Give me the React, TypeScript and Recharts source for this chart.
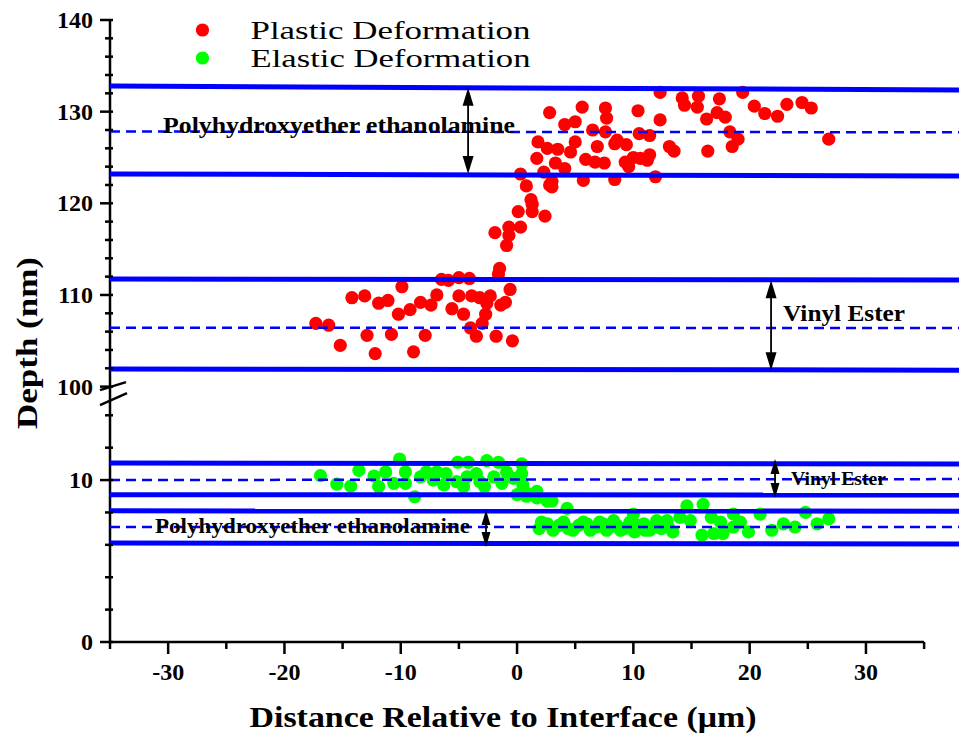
import { ScatterChart, Scatter, XAxis, YAxis, ReferenceLine, ReferenceDot, Legend } from 'recharts';

const FONT = '"Liberation Serif", "Times New Roman", serif';

// y axis is broken: 0..~15 nm below, 100..140 nm above (compressed)
const BREAK_AXIS = 15.77;
const UPPER_SCALE = 0.566;
const toAxis = (d: number) => (d >= 50 ? BREAK_AXIS + (d - 100) * UPPER_SCALE : d);
const fromAxis = (v: number) => (v >= BREAK_AXIS - 1e-6 ? 100 + (v - BREAK_AXIS) / UPPER_SCALE : v);

const xTicks = [-35, -30, -25, -20, -15, -10, -5, 0, 5, 10, 15, 20, 25, 30, 35];
const yTicksReal = [0, 2, 4, 6, 8, 10, 12, 14, 100, 102, 104, 106, 108, 110, 112, 114, 116, 118, 120, 122, 124, 126, 128, 130, 132, 134, 136, 138, 140];

const seriesNames = ['Plastic Deformation', 'Elastic Deformation'];
const seriesColors = ['#ff0000', '#00ff00'];

const plasticX = [
  -17.3, -16.2, -15.2, -14.2, -13.1, -12.9, -12.2, -11.9, -11.1, -10.8, -10.2, -9.9, -9.2, -8.9, -8.3, -7.9, -7.4, -6.9, -6.5, -5.9,
  -5.6, -5.0, -5.0, -4.6, -4.1, -4.0, -3.9, -3.5, -3.2, -3.0, -2.7, -2.6, -2.3, -1.8, -1.5, -1.6, -1.4, -1.0, -0.6, -0.4,
  -1.9, -0.9, -0.7, -0.7, 0.3, 0.1, 1.3, 1.3, 1.2, 2.4, 0.8, 0.3, 2.3, 2.8,
  2.8, 1.8, 1.7, 3.0, 3.0, 2.6, 3.5, 3.3, 4.1, 4.1, 5.0, 5.6, 4.6, 5.0, 5.7, 5.9, 6.5, 6.7, 6.9, 7.5,
  7.6, 7.7, 7.6, 8.4, 8.4, 8.6, 9.3, 9.4, 9.6, 10.0, 10.4, 10.5, 10.6, 11.2, 11.4, 11.4, 11.9, 12.3, 12.3, 13.1,
  13.5, 14.2, 14.4, 15.5, 15.6, 16.3, 16.4, 17.2, 17.4, 17.9, 18.3, 18.5, 19.0, 19.4, 20.4, 21.3, 22.4, 23.2, 24.5, 25.3, 26.8,
];
const plasticDepth = [
  106.9, 106.7, 104.5, 109.7, 109.9, 105.6, 103.6, 109.1, 109.4, 105.7, 107.9, 110.9, 108.4, 103.8, 109.2, 105.6, 108.9, 110.0, 111.7, 111.6,
  108.5, 109.9, 111.9, 107.9, 111.8, 106.4, 109.9, 105.5, 109.7, 106.9, 107.9, 109.1, 109.9, 105.5, 112.9, 112.3, 108.9, 109.2, 110.6, 105.0,
  116.8, 115.4, 116.5, 117.4, 117.4, 119.1, 119.1, 119.9, 120.4, 118.6, 121.9, 123.2, 123.4, 122.0,
  129.9, 126.7, 124.9, 122.4, 121.8, 126.0, 125.9, 124.4, 123.8, 128.6, 128.9, 130.5, 125.6, 126.7, 122.5, 124.8, 128.0, 124.5, 126.2, 124.4,
  127.8, 129.3, 130.4, 126.5, 122.6, 126.9, 124.5, 126.4, 124.0, 125.0, 130.1, 127.6, 124.9, 124.7, 125.3, 127.4, 122.9, 129.1, 132.1, 126.2,
  125.7, 131.5, 130.7, 130.5, 131.7, 129.2, 125.7, 129.9, 131.4, 129.4, 127.8, 126.2, 127.0, 132.1, 130.6, 129.8, 129.5, 130.8, 131.0, 130.4, 127.0,
];

const elasticX = [
  -16.9, -15.5, -14.3, -13.6, -12.3, -11.9, -11.3, -10.6, -10.1, -9.6, -9.6, -8.8, -8.3, -7.8, -7.2, -6.9, -6.3, -6.1, -5.1, -4.2,
  -5.2, -4.6, -4.3, -3.5, -3.2, -2.8, -2.6, -1.6, -2.0, -1.3, -0.9, -0.3, 0.4, 0.4, 0.5, 0.0, 0.8, 1.7, 2.6,
  0.8, 1.7, 3.0, 4.3, 2.1, 3.1, 4.0, 4.8, 5.7, 6.3, 7.1, 7.7, 8.3, 8.9, 9.7, 10.0, 10.1, 10.9, 11.4, 12.0,
  12.9, 13.4, 14.0, 14.6, 14.9, 16.0, 15.9, 16.7, 16.9, 17.5, 17.7, 18.6, 18.6, 19.2, 19.9, 20.9, 21.9, 22.9, 23.9, 24.8, 25.8, 26.8,
  1.9, 2.6, 3.6, 4.4, 5.3, 6.0, 6.8, 7.4, 8.0, 8.6, 9.2, 10.4, 11.0, 11.8, 12.4, 13.0,
];
const elasticDepth = [
  10.27, 9.75, 9.63, 10.6, 10.25, 9.6, 10.5, 9.8, 11.3, 10.5, 9.8, 8.97, 10.2, 10.5, 10.0, 10.5, 9.7, 10.4, 11.1, 11.1,
  9.9, 9.6, 10.2, 10.4, 9.9, 9.6, 11.2, 11.1, 10.2, 9.8, 10.5, 10.1, 11.0, 10.4, 9.7, 9.1, 9.0, 9.3, 8.7,
  9.2, 8.9, 8.7, 8.25, 7.4, 6.9, 7.4, 6.9, 7.4, 6.9, 7.4, 6.9, 7.5, 6.9, 7.4, 7.9, 6.8, 7.3, 6.9, 7.5,
  7.5, 6.8, 7.7, 8.4, 7.5, 8.5, 6.6, 7.7, 6.7, 7.4, 6.7, 7.9, 7.1, 7.4, 6.8, 7.9, 6.9, 7.3, 7.1, 8.0, 7.3, 7.6,
  7.0, 7.3, 7.2, 7.0, 7.2, 7.3, 7.1, 7.3, 7.1, 7.2, 7.0, 7.2, 6.9, 7.1, 7.0, 7.1,
];

// layer boundaries (depth at left and right edge)
const solidFrom = [132.8, 123.2, 111.74, 101.92, 11.05, 9.1, 8.1, 6.11];
const solidTo = [132.36, 122.98, 111.63, 101.8, 10.99, 9.07, 8.08, 6.05];
const dashedFrom = [127.83, 106.43, 10.0, 7.1];
const dashedTo = [127.75, 106.4, 10.06, 7.1];

// layer thickness arrows
const arrowX = [-4.21, 21.84, 22.18, -2.67];
const arrowTop = [132.6, 111.6, 11.3, 8.15];
const arrowBottom = [123.2, 101.8, 8.89, 5.86];

const layerNames = ['Polyhydroxyether ethanolamine', 'Vinyl Ester', 'Vinyl Ester', 'Polyhydroxyether ethanolamine'];
const layerNameX = [-30.44, 22.87, 23.56, -31.13];
const layerNameDepth = [127.67, 107.16, 9.69, 6.73];

const X_MIN = -35;
const X_MAX = 38;

const plasticData = plasticX.map((x, i) => ({ x, y: toAxis(plasticDepth[i]) }));
const elasticData = elasticX.map((x, i) => ({ x, y: toAxis(elasticDepth[i]) }));

const dot = (color: string) => (p: any) => <circle cx={p.cx} cy={p.cy} r={6.6} fill={color} />;

const arrowShape = (headLen: number, headW: number) => (p: any) => {
  const x = p.x1;
  const top = Math.min(p.y1, p.y2);
  const bot = Math.max(p.y1, p.y2);
  return (
    <g>
      <line x1={x} x2={x} y1={top + headLen - 2} y2={bot - headLen + 2} stroke="#000" strokeWidth={1.8} />
      <polygon points={`${x},${top} ${x - headW / 2},${top + headLen} ${x + headW / 2},${top + headLen}`} fill="#000" />
      <polygon points={`${x},${bot} ${x - headW / 2},${bot - headLen} ${x + headW / 2},${bot - headLen}`} fill="#000" />
    </g>
  );
};

const annotationStyle = [
  { fontSize: 23, width: 352 },
  { fontSize: 23, width: 122 },
  { fontSize: 18, width: 95 },
  { fontSize: 21, width: 315 },
];

const YTick = (p: any) => {
  const real = Math.round(fromAxis(p.payload.value));
  const major = real % 10 === 0;
  return (
    <g>
      <line x1={p.x - (major ? 10 : 5)} x2={p.x + 3} y1={p.y} y2={p.y} stroke="#000" strokeWidth={2.5} />
      {major && (
        <text x={p.x - 17} y={p.y + 8} textAnchor="end" fontFamily={FONT} fontWeight={700} fontSize={24} fill="#000">
          {real}
        </text>
      )}
    </g>
  );
};

const XTick = (p: any) => {
  const v = p.payload.value;
  const major = v % 10 === 0;
  return (
    <g>
      <line x1={p.x} x2={p.x} y1={p.y} y2={p.y + (major ? 12 : 7)} stroke="#000" strokeWidth={2.5} />
      {major && (
        <text x={p.x} y={p.y + 38} textAnchor="middle" fontFamily={FONT} fontWeight={700} fontSize={24} fill="#000">
          {v}
        </text>
      )}
    </g>
  );
};

const renderLegend = (props: any) => {
  const items = [...(props.payload || [])].sort(
    (a: any, b: any) => seriesNames.indexOf(a.value) - seriesNames.indexOf(b.value)
  );
  return (
    <svg width={420} height={60} style={{ display: 'block' }}>
      {items.map((e: any, i: number) => (
        <g key={e.value}>
          <circle cx={6.5} cy={14 + i * 28} r={6.6} fill={e.color} />
          <text
            x={54.5}
            y={14 + i * 28 + 9}
            fontFamily={FONT}
            fontSize={26}
            textLength={280}
            lengthAdjust="spacingAndGlyphs"
            fill="#000"
          >
            {e.value}
          </text>
        </g>
      ))}
    </svg>
  );
};

export default function App() {
  return (
    <div style={{ width: 959, height: 739, background: '#fff' }}>
      <style>{'body{margin:0}'}</style>
      <ScatterChart width={959} height={739} margin={{ top: 20, right: 0, bottom: 0, left: 0 }}>
        <XAxis
          type="number"
          dataKey="x"
          domain={[X_MIN, X_MAX]}
          ticks={xTicks}
          interval={0}
          height={97}
          axisLine={false}
          tickLine={false}
          tickSize={0}
          tickMargin={0}
          tick={<XTick />}
          label={(lp: any) => (
            <text
              x={lp.viewBox.x + 393}
              y={lp.viewBox.y + 85}
              textAnchor="middle"
              fontFamily={FONT}
              fontWeight={700}
              fontSize={29}
              textLength={507}
              lengthAdjust="spacingAndGlyphs"
            >
              Distance Relative to Interface (μm)
            </text>
          )}
        />
        <YAxis
          type="number"
          dataKey="y"
          domain={[0, toAxis(140)]}
          ticks={yTicksReal.map(toAxis)}
          interval={0}
          width={110}
          axisLine={{ stroke: '#000', strokeWidth: 2.5 }}
          tickLine={false}
          tickSize={0}
          tickMargin={0}
          tick={<YTick />}
          label={(lp: any) => {
            const cx = 37;
            const cy = lp.viewBox.y + lp.viewBox.height / 2 + 12;
            return (
              <text
                x={cx}
                y={cy}
                transform={`rotate(-90 ${cx} ${cy})`}
                textAnchor="middle"
                fontFamily={FONT}
                fontWeight={700}
                fontSize={30}
                textLength={172}
                lengthAdjust="spacingAndGlyphs"
              >
                Depth (nm)
              </text>
            );
          }}
        />
        <Legend
          layout="vertical"
          align="center"
          verticalAlign="middle"
          wrapperStyle={{ left: 195.5, top: 16, width: 420 }}
          content={renderLegend}
        />
        <Scatter name={seriesNames[0]} data={plasticData} fill={seriesColors[0]} shape={dot(seriesColors[0])} isAnimationActive={false} />
        <Scatter name={seriesNames[1]} data={elasticData} fill={seriesColors[1]} shape={dot(seriesColors[1])} isAnimationActive={false} />

        {solidFrom.map((d, i) => (
          <ReferenceLine
            key={'s' + i}
            segment={[{ x: X_MIN, y: toAxis(d) }, { x: X_MAX, y: toAxis(solidTo[i]) }]}
            stroke="#0000ff"
            strokeWidth={5}
            zIndex={700}
          />
        ))}
        {dashedFrom.map((d, i) => (
          <ReferenceLine
            key={'d' + i}
            segment={[{ x: X_MIN, y: toAxis(d) }, { x: X_MAX, y: toAxis(dashedTo[i]) }]}
            stroke="#0000ff"
            strokeWidth={2.5}
            strokeDasharray="10 6"
            zIndex={700}
          />
        ))}
        {arrowX.map((x, i) => (
          <ReferenceLine
            key={'a' + i}
            segment={[{ x, y: toAxis(arrowTop[i]) }, { x, y: toAxis(arrowBottom[i]) }]}
            shape={i < 2 ? arrowShape(18, 11) : arrowShape(15, 9)}
            zIndex={800}
          />
        ))}
        {layerNames.map((name, i) => (
          <ReferenceDot
            key={'n' + i}
            x={layerNameX[i]}
            y={toAxis(layerNameDepth[i])}
            zIndex={800}
            shape={(p: any) => (
              <text
                x={p.cx}
                y={p.cy}
                fontFamily={FONT}
                fontWeight={700}
                fontSize={annotationStyle[i].fontSize}
                textLength={annotationStyle[i].width}
                lengthAdjust="spacingAndGlyphs"
                fill="#000"
              >
                {name}
              </text>
            )}
          />
        ))}
        {/* x axis line stops at 35 while the layer lines run to the edge */}
        <ReferenceLine segment={[{ x: X_MIN, y: 0 }, { x: 35, y: 0 }]} stroke="#000" strokeWidth={2.5} zIndex={800} />
        {/* axis break mark */}
        <ReferenceDot
          x={X_MIN}
          y={15.43}
          zIndex={800}
          shape={(p: any) => (
            <g stroke="#000" strokeWidth={2.5}>
              <line x1={p.cx - 10} y1={p.cy - 2} x2={p.cx + 16} y2={p.cy - 10} />
              <line x1={p.cx - 10} y1={p.cy + 13} x2={p.cx + 17} y2={p.cy + 1} />
            </g>
          )}
        />
      </ScatterChart>
    </div>
  );
}
